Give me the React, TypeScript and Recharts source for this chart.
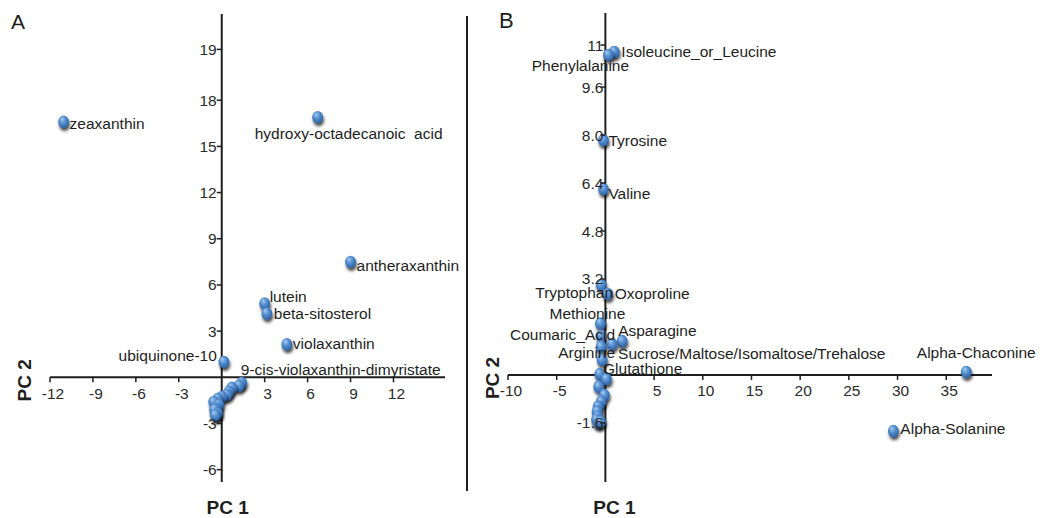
import { LabelList, ReferenceLine, Scatter, ScatterChart, XAxis, YAxis } from "recharts";

const FONT = "'Liberation Sans', Arial, sans-serif";
const INK = "#1e1e1e";

// panel A – pigments / lipids
const namesA = [
  "zeaxanthin",
  "hydroxy-octadecanoic  acid",
  "antheraxanthin",
  "lutein",
  "beta-sitosterol",
  "violaxanthin",
  "ubiquinone-10",
  "9-cis-violaxanthin-dimyristate",
  "", "", "", "", "", "", "", "", "", "", "", "", "",
];
const pc1A = [-11.05, 6.7, 9.0, 3.0, 3.15, 4.55, 0.15, 1.4, 1.2, 0.7, 0.5, 0.35, 0.0, -0.28, -0.56, -0.2, -0.35, -0.35, -0.5, -0.3, -0.45];
const pc2A = [16.6, 16.9, 7.5, 4.8, 4.15, 2.15, 1.0, -0.36, -0.55, -0.68, -0.94, -1.14, -1.27, -1.4, -1.6, -1.8, -2.0, -2.25, -2.1, -2.35, -2.45];
const xTicksA = [-12, -9, -6, -3, 3, 6, 9, 12];
const xTickLabelsA = ["-12", "-9", "-6", "-3", "3", "6", "9", "12"];
const yTicksA = [-6, -3, 3, 6, 9, 12, 15, 18, 21.3];
const yTickLabelsA = ["-6", "-3", "3", "6", "9", "12", "15", "18", "19"];

// panel B – amino acids, sugars, glycoalkaloids
const namesB = [
  "Isoleucine_or_Leucine",
  "Phenylalanine",
  "Tyrosine",
  "Valine",
  "Tryptophan",
  "Oxoproline",
  "Methionine",
  "Coumaric_Acid",
  "Asparagine",
  "Sucrose/Maltose/Isomaltose/Trehalose",
  "Arginine",
  "Glutathione",
  "Alpha-Chaconine",
  "Alpha-Solanine",
  "", "", "", "", "", "", "", "", "", "", "",
];
const pc1B = [0.92, 0.31, -0.2, -0.2, -0.44, 0.24, -0.51, -0.44, 1.72, 0.69, -0.44, -0.34, 37.06, 29.57, -0.58, 0.1, -0.69, -0.1, -0.44, -0.75, -0.85, -0.79, -0.9, -0.7, -0.5];
const pc2B = [10.77, 10.67, 7.83, 6.2, 3.0, 2.7, 1.72, 1.3, 1.13, 1.03, 0.94, 0.5, 0.1, -1.87, 0.03, -0.14, -0.39, -0.67, -0.89, -1.06, -1.22, -1.39, -1.5, -1.6, -1.55];
const xTicksB = [-10, -5, 5, 10, 15, 20, 25, 30, 35];
const xTickLabelsB = ["-10", "-5", "5", "10", "15", "20", "25", "30", "35"];
const yTicksB = [-1.6, 3.2, 4.8, 6.4, 8.0, 9.6, 11];
const yTickLabelsB = ["-1.6", "3.2", "4.8", "6.4", "8.0", "9.6", "11"];

type Anchor = "start" | "middle" | "end";
// where each name sits relative to its point: dx, dy, anchor
const labelPlacement: Record<string, [number, number, Anchor]> = {
  zeaxanthin: [6, 2, "start"],
  "hydroxy-octadecanoic  acid": [31, 16, "middle"],
  antheraxanthin: [6, 4, "start"],
  lutein: [5, -7, "start"],
  "beta-sitosterol": [7, 0, "start"],
  violaxanthin: [6, -1, "start"],
  "ubiquinone-10": [-7, -6, "end"],
  "9-cis-violaxanthin-dimyristate": [-1, -13, "start"],
  Isoleucine_or_Leucine: [7, 0, "start"],
  Phenylalanine: [-28, 11, "middle"],
  Tyrosine: [5, 0, "start"],
  Valine: [5, 4, "start"],
  Tryptophan: [12, 8, "end"],
  Oxoproline: [7, 0, "start"],
  Methionine: [-13, -10, "middle"],
  Coumaric_Acid: [14, -1, "end"],
  Asparagine: [-4, -11, "start"],
  "Sucrose/Maltose/Isomaltose/Trehalose": [6, 9, "start"],
  Arginine: [14, 6, "end"],
  Glutathione: [1, 9, "start"],
  "Alpha-Chaconine": [10, -19, "middle"],
  "Alpha-Solanine": [7, -3, "start"],
};

type Pt = { x: number; y: number; name: string };
const toPoints = (xs: number[], ys: number[], names: string[]): Pt[] =>
  xs.map((x, i) => ({ x, y: ys[i], name: names[i] }));

const Bead = (props: any) => {
  const { cx, cy } = props;
  if (cx == null || cy == null) return null;
  return (
    <ellipse cx={cx} cy={cy} rx={5.4} ry={6.2} fill="url(#beadFill)" filter="url(#beadShadow)" />
  );
};

const renderPointLabel = (props: any) => {
  const { value } = props;
  if (!value) return null;
  const vb = props.viewBox ?? props;
  const cx = vb.x + (vb.width ?? 0) / 2;
  const cy = vb.y + (vb.height ?? 0) / 2;
  const [dx, dy, anchor] = labelPlacement[value] ?? [7, 0, "start"];
  return (
    <text
      x={cx + dx}
      y={cy + dy}
      textAnchor={anchor}
      dominantBaseline="central"
      fontFamily={FONT}
      fontSize={15.5}
      fill={INK}
      style={{ whiteSpace: "pre" }}
    >
      {value}
    </text>
  );
};

type PanelProps = {
  left: number;
  width: number;
  margin: { top: number; right: number; bottom: number; left: number };
  xDomain: [number, number];
  yDomain: [number, number];
  xTicks: number[];
  xTickLabels: string[];
  yTicks: number[];
  yTickLabels: string[];
  yLabelGap: number;
  data: Pt[];
  titleShift: number;
  yTitleX: number;
};

const HEIGHT = 518;
const AXIS = 1; // axes are 1px wide so they still render, ticks are drawn at the origin

function PcaPanel(p: PanelProps) {
  const plotLeft = p.margin.left + AXIS;
  const plotW = p.width - plotLeft - p.margin.right;
  const plotH = HEIGHT - p.margin.top - p.margin.bottom - AXIS;
  const zeroX = plotLeft + (plotW * (0 - p.xDomain[0])) / (p.xDomain[1] - p.xDomain[0]);
  const zeroY = p.margin.top + (plotH * p.yDomain[1]) / (p.yDomain[1] - p.yDomain[0]);

  const xTick = (t: any) => {
    const label = p.xTickLabels[p.xTicks.indexOf(t.payload.value)];
    return (
      <g>
        <line x1={t.x} x2={t.x} y1={zeroY} y2={zeroY + 5} stroke={INK} strokeWidth={1.5} />
        <text x={t.x + 3} y={zeroY + 16} textAnchor="middle" dominantBaseline="central"
          fontFamily={FONT} fontSize={15.5} fill="#2a2a2a">
          {label}
        </text>
      </g>
    );
  };
  const yTick = (t: any) => {
    const label = p.yTickLabels[p.yTicks.indexOf(t.payload.value)];
    return (
      <g>
        <line x1={zeroX - 5} x2={zeroX} y1={t.y} y2={t.y} stroke={INK} strokeWidth={1.5} />
        <text x={zeroX - p.yLabelGap} y={t.y} textAnchor="end" dominantBaseline="central"
          fontFamily={FONT} fontSize={15.5} fill="#2a2a2a">
          {label}
        </text>
      </g>
    );
  };

  return (
    <div style={{ position: "absolute", left: p.left, top: 0 }}>
      <ScatterChart width={p.width} height={HEIGHT} margin={p.margin}>
        <XAxis
          type="number"
          dataKey="x"
          domain={p.xDomain}
          ticks={p.xTicks}
          interval={0}
          allowDataOverflow
          height={AXIS}
          axisLine={false}
          tickLine={false}
          tick={xTick}
          label={{
            value: "PC 1",
            content: () => (
              <text x={zeroX + p.titleShift} y={507} textAnchor="middle" dominantBaseline="central"
                fontFamily={FONT} fontSize={19} fontWeight="bold" fill={INK}>
                PC 1
              </text>
            ),
          }}
        />
        <YAxis
          type="number"
          dataKey="y"
          domain={p.yDomain}
          ticks={p.yTicks}
          interval={0}
          allowDataOverflow
          width={AXIS}
          axisLine={false}
          tickLine={false}
          tick={yTick}
          label={{
            value: "PC 2",
            content: () => (
              <text x={p.yTitleX} y={zeroY + 3} transform={`rotate(-90 ${p.yTitleX} ${zeroY + 3})`}
                textAnchor="middle" dominantBaseline="central"
                fontFamily={FONT} fontSize={19} fontWeight="bold" fill={INK}>
                PC 2
              </text>
            ),
          }}
        />
        <ReferenceLine x={0} stroke={INK} strokeWidth={2} />
        <ReferenceLine y={0} stroke={INK} strokeWidth={2} />
        <Scatter data={p.data} shape={Bead} isAnimationActive={false}>
          <LabelList dataKey="name" content={renderPointLabel} />
        </Scatter>
      </ScatterChart>
    </div>
  );
}

export default function App() {
  const dataA = toPoints(pc1A, pc2A, namesA);
  const dataB = toPoints(pc1B, pc2B, namesB);
  return (
    <div style={{ position: "absolute", left: 0, top: 0, width: 1053, height: HEIGHT, background: "#fff", overflow: "hidden" }}>
      <svg width={0} height={0} style={{ position: "absolute" }}>
        <defs>
          <radialGradient id="beadFill" cx="45%" cy="40%" r="60%" fx="35%" fy="28%">
            <stop offset="0%" stopColor="#a8ccf0" />
            <stop offset="45%" stopColor="#5a93d3" />
            <stop offset="100%" stopColor="#2c62a6" />
          </radialGradient>
          <filter id="beadShadow" x="-80%" y="-80%" width="260%" height="260%">
            <feDropShadow dx="1" dy="3" stdDeviation="1.7" floodColor="#000" floodOpacity="0.7" />
          </filter>
        </defs>
      </svg>

      <PcaPanel
        left={0}
        width={470}
        margin={{ top: 14, right: 25, bottom: 35, left: 49 }}
        xDomain={[-12, 15.6]}
        yDomain={[-6.8, 23.6]}
        xTicks={xTicksA}
        xTickLabels={xTickLabelsA}
        yTicks={yTicksA}
        yTickLabels={yTickLabelsA}
        yLabelGap={5}
        data={dataA}
        titleShift={6}
        yTitleX={25}
      />
      <PcaPanel
        left={470}
        width={583}
        margin={{ top: 13, right: 61, bottom: 35, left: 37 }}
        xDomain={[-10, 39.7]}
        yDomain={[-3.57, 12.07]}
        xTicks={xTicksB}
        xTickLabels={xTickLabelsB}
        yTicks={yTicksB}
        yTickLabels={yTickLabelsB}
        yLabelGap={2}
        data={dataB}
        titleShift={9}
        yTitleX={23}
      />

      <div style={{ position: "absolute", left: 466, top: 16, width: 2, height: 475, background: INK }} />
      <div style={{ position: "absolute", left: 11, top: 11, fontFamily: FONT, fontSize: 21, lineHeight: 1, color: INK }}>A</div>
      <div style={{ position: "absolute", left: 499, top: 10, fontFamily: FONT, fontSize: 22, lineHeight: 1, color: INK }}>B</div>
    </div>
  );
}
